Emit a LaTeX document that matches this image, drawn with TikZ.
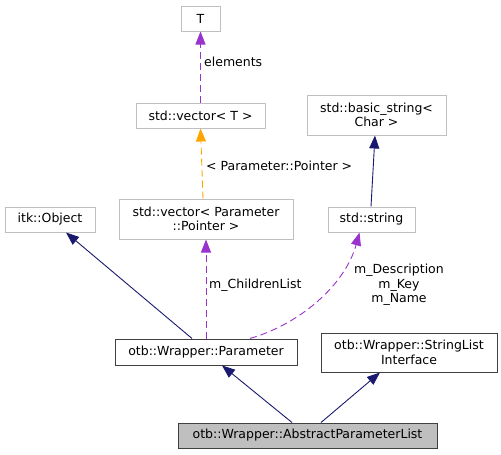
\documentclass[tikz,border=0pt]{standalone}
\usepackage{fontspec}
\setmainfont{DejaVu Sans}
\usetikzlibrary{arrows.meta}
\definecolor{edgenavy}{HTML}{191970}
\definecolor{edgepurple}{HTML}{9A32CD}
\definecolor{edgeorange}{HTML}{FFA500}
\definecolor{boxgray}{HTML}{BFBFBF}
\definecolor{boxdark}{HTML}{404040}
\begin{document}
\begin{tikzpicture}[
    x=1pt, y=-1pt,
    every node/.style={font=\fontsize{12.5}{14.5}\selectfont, align=center, inner sep=0pt},
    cls/.style={draw=boxgray, line width=1pt, fill=white},
    member/.style={draw=boxdark, line width=1pt, fill=white},
    current/.style={draw=boxdark, line width=1pt, fill=boxgray},
    inherit/.style={edgenavy, line width=0.9pt, -{Triangle[length=13pt, width=10pt]}},
    uses/.style={edgepurple, line width=0.9pt, dash pattern=on 7pt off 4pt, -{Triangle[length=13pt, width=10pt]}},
    templ/.style={edgeorange, line width=0.9pt, dash pattern=on 7pt off 4pt, -{Triangle[length=13pt, width=10pt]}},
    lbl/.style={anchor=west}
]
    \useasboundingbox (0,0) rectangle (501,455);

    % Classes
    \node[cls, minimum width=39pt, minimum height=25pt] (T) at (200.5,18.5) {T};
    \node[cls, minimum width=129pt, minimum height=25pt] (vecT) at (200.5,115.5) {std::vector< T >};
    \node[cls, minimum width=139pt, minimum height=40pt] (bstr) at (376.5,115) {std::basic\_string<\\Char >};
    \node[cls, minimum width=87pt, minimum height=25pt] (str) at (371.5,219.5) {std::string};
    \node[cls, minimum width=90pt, minimum height=25pt] (itk) at (50,219.5) {itk::Object};
    \node[cls, minimum width=174pt, minimum height=40pt] (vecP) at (206,219) {std::vector< Parameter\\::Pointer >};
    \node[member, minimum width=182pt, minimum height=26pt] (param) at (206,352) {otb::Wrapper::Parameter};
    \node[member, minimum width=176pt, minimum height=39pt] (sli) at (409,352.5) {otb::Wrapper::StringList\\Interface};
    \node[current, minimum width=259pt, minimum height=25pt] (apl) at (307.5,435.5) {otb::Wrapper::AbstractParameterList};

    % Template and member relations
    \draw[uses] (vecT.north) -- (T.south);
    \node[lbl] (elemlbl) at (204,62) {elements};
    \draw[templ] ([xshift=-3pt]vecP.north) -- (vecT.south);
    \node[lbl] (ptrlbl) at (206,166) {< Parameter::Pointer >};
    \draw[uses] (param.north) -- (vecP.south);
    \node[lbl] (childlbl) at (209,285) {m\_ChildrenList};
    \draw[uses] ([xshift=44pt]param.north) .. controls (300,324) and (345,285) .. ([xshift=-12pt]str.south);
    \node (strlbl) at (399,285) {m\_Description\\m\_Key\\m\_Name};

    % Inheritance
    \draw[inherit] ([xshift=-0.5pt]str.north) -- ([xshift=-1.5pt]bstr.south);
    \draw[inherit] ([xshift=-14pt]param.north) -- ([xshift=16pt]itk.south);
    \draw[inherit] ([xshift=-15.5pt]apl.north) -- ([xshift=16pt]param.south);
    \draw[inherit] ([xshift=13.5pt]apl.north) -- ([xshift=-29pt]sli.south);
\end{tikzpicture}
\end{document}
